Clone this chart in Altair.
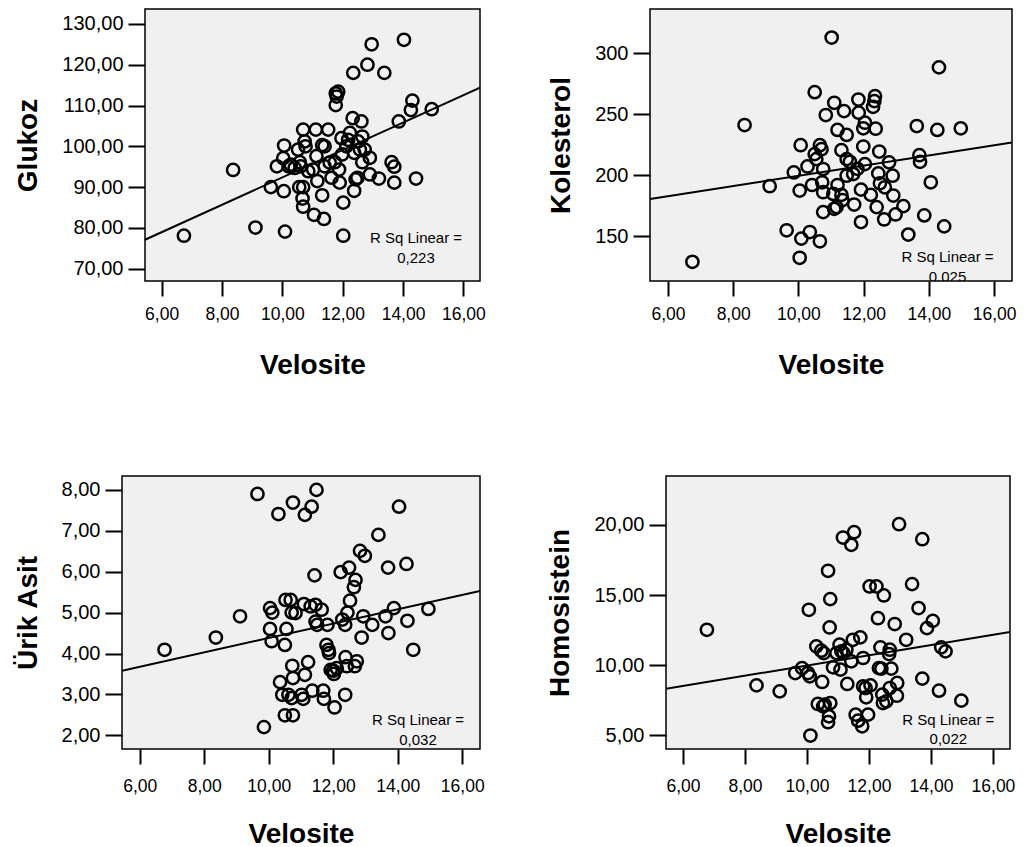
import altair as alt
import pandas as pd

# ---------------- data ----------------
glu_velo = [6.74, 8.37, 9.11, 10.09, 9.62, 9.82, 10.06, 10.03, 10.05, 10.28, 10.41, 10.52, 10.56, 10.69,
            10.67, 10.69, 10.69, 10.74, 10.77, 10.61, 10.86, 11.05, 11.11, 11.13, 11.16, 11.32, 11.38, 11.32,
            11.40, 11.52, 11.40, 11.63, 11.74, 11.77, 11.85, 11.80, 11.77, 11.88, 11.90, 11.98, 11.96, 12.02,
            12.02, 12.18, 12.24, 12.33, 12.35, 12.38, 12.43, 12.38, 12.49, 12.51, 12.62, 12.65, 12.65, 12.73,
            12.82, 12.90, 12.96, 12.90, 13.20, 13.38, 13.62, 13.71, 13.71, 13.86, 14.03, 14.26, 14.31, 14.43,
            14.95, 10.21, 10.58, 11.02, 11.57, 12.12, 12.57]
glukoz = [78.1, 94.2, 80.1, 79.1, 90.0, 95.1, 100.2, 97.1, 89.0, 95.5, 94.7, 99.2, 90.0, 90.0,
          87.2, 85.2, 104.1, 101.2, 100.0, 95.1, 93.9, 83.2, 104.1, 97.6, 91.5, 88.0, 82.2, 100.3,
          100.0, 104.1, 95.1, 92.3, 96.1, 113.0, 113.4, 112.2, 110.1, 94.3, 91.1, 98.0, 102.0, 86.2,
          78.1, 101.6, 103.3, 106.9, 118.0, 98.4, 91.9, 89.1, 92.3, 101.2, 106.1, 102.4, 96.1, 99.2,
          120.0, 97.2, 125.0, 93.1, 92.1, 118.0, 96.1, 95.0, 91.1, 106.1, 126.1, 108.9, 111.2, 92.1,
          109.1, 95.1, 96.1, 94.3, 96.0, 100.0, 99.2]

kol_velo = [6.75, 8.35, 9.12, 9.64, 9.86, 10.04, 10.04, 10.07, 10.09, 10.28, 10.35, 10.42, 10.50, 10.50,
            10.55, 10.66, 10.66, 10.71, 10.73, 10.76, 10.76, 10.76, 10.84, 11.07, 11.10, 11.10, 11.17, 11.20,
            11.20, 11.32, 11.32, 11.40, 11.48, 11.48, 11.48, 11.58, 11.68, 11.71, 11.84, 11.85, 11.92, 11.92,
            11.99, 11.99, 12.04, 12.04, 12.22, 12.35, 12.33, 12.29, 12.37, 12.40, 12.45, 12.48, 12.50, 12.63,
            12.65, 12.78, 12.89, 12.91, 12.98, 13.22, 13.37, 13.63, 13.71, 13.73, 13.86, 14.06, 14.26, 14.31,
            14.47, 14.98, 11.02, 11.35, 11.81]
kolesterol = [129.1, 241.1, 191.0, 154.9, 202.3, 187.4, 132.4, 224.6, 148.1, 207.2, 153.5, 192.0, 268.0, 217.3,
              213.2, 145.9, 224.6, 221.3, 194.2, 205.1, 186.1, 169.8, 249.3, 184.7, 259.3, 172.5, 173.9, 192.0,
              237.1, 183.9, 220.5, 252.5, 233.0, 213.2, 199.6, 211.0, 201.0, 176.0, 262.0, 251.2, 188.2, 161.7,
              238.4, 223.5, 209.1, 243.0, 183.9, 264.7, 260.7, 256.0, 238.1, 173.9, 201.5, 219.4, 193.4, 163.8,
              190.1, 210.5, 199.6, 183.4, 167.9, 174.7, 151.4, 240.3, 216.4, 211.0, 167.1, 194.2, 237.1, 288.3,
              158.1, 238.4, 312.7, 179.7, 205.3]

uri_velo = [6.77, 8.36, 9.11, 9.65, 9.85, 10.04, 10.11, 10.04, 10.09, 10.30, 10.35, 10.42, 10.50, 10.50,
            10.52, 10.55, 10.61, 10.68, 10.71, 10.73, 10.75, 10.75, 10.75, 10.71, 10.83, 11.02, 11.07, 11.09,
            11.12, 11.12, 11.22, 11.30, 11.33, 11.35, 11.42, 11.45, 11.48, 11.45, 11.50, 11.64, 11.69, 11.71,
            11.79, 11.82, 11.85, 11.87, 11.92, 12.00, 12.02, 12.04, 12.11, 12.23, 12.28, 12.37, 12.37, 12.38,
            12.44, 12.42, 12.49, 12.52, 12.64, 12.69, 12.67, 12.73, 12.83, 12.88, 12.93, 12.98, 13.21, 13.40,
            13.62, 13.70, 13.71, 13.88, 14.04, 14.27, 14.30, 14.48, 14.95]
urik_asit = [4.09, 4.39, 4.91, 7.90, 2.20, 5.11, 5.00, 4.60, 4.30, 7.41, 3.30, 2.99, 4.21, 2.49,
             5.31, 4.60, 2.99, 5.31, 5.00, 3.70, 7.69, 3.40, 2.49, 2.91, 4.99, 2.99, 2.89, 5.21,
             7.39, 3.48, 3.79, 5.15, 7.59, 3.09, 5.91, 5.19, 8.00, 4.78, 4.70, 5.07, 3.09, 2.89,
             4.21, 4.70, 4.09, 4.01, 3.60, 3.58, 3.50, 2.68, 3.64, 5.99, 4.83, 4.70, 2.99, 3.91,
             5.00, 3.69, 6.10, 5.29, 5.62, 5.80, 3.69, 3.81, 6.51, 4.39, 4.91, 6.39, 4.70, 6.90,
             4.91, 6.10, 4.50, 5.11, 7.59, 6.19, 4.80, 4.09, 5.09]

hom_velo = [6.77, 8.37, 9.12, 9.62, 9.84, 10.03, 10.09, 10.06, 10.11, 10.30, 10.35, 10.46, 10.49, 10.52,
            10.54, 10.57, 10.68, 10.71, 10.68, 10.73, 10.75, 10.75, 10.84, 10.95, 11.05, 11.08, 11.11, 11.16,
            11.18, 11.30, 11.27, 11.43, 11.43, 11.48, 11.52, 11.57, 11.65, 11.72, 11.78, 11.81, 11.81, 11.89,
            11.91, 11.97, 12.02, 12.05, 12.24, 12.29, 12.32, 12.37, 12.40, 12.43, 12.45, 12.48, 12.56, 12.67,
            12.65, 12.67, 12.72, 12.83, 12.91, 12.90, 12.97, 13.20, 13.39, 13.60, 13.72, 13.72, 13.87, 14.06,
            14.26, 14.33, 14.47, 14.98]
homosistein = [12.52, 8.56, 8.13, 9.44, 9.79, 9.44, 9.20, 13.95, 4.98, 11.34, 7.23, 11.03, 8.80, 7.06,
               10.86, 7.18, 16.73, 6.35, 5.93, 12.69, 14.71, 7.30, 9.84, 10.86, 11.46, 9.68, 10.98, 19.10,
               10.86, 8.66, 11.10, 18.58, 10.27, 11.81, 19.48, 6.47, 6.04, 11.98, 5.64, 10.51, 8.49, 8.37,
               7.71, 6.47, 15.61, 8.56, 15.61, 13.35, 9.79, 11.27, 9.75, 7.90, 7.30, 14.97, 7.42, 8.37,
               10.79, 11.10, 9.75, 12.93, 8.73, 7.82, 20.05, 11.81, 15.78, 14.07, 9.04, 18.98, 12.64, 13.16,
               8.18, 11.27, 10.98, 7.47]

# fitted line values at the two ends of the x range
x_range = [5.45, 16.55]
fit_glukoz = [77.1, 114.4]
fit_kolesterol = [180.6, 226.8]
fit_urik = [3.58, 5.53]
fit_homosistein = [8.32, 12.36]

rsq_values = ["0,223", "0,025", "0,032", "0,022"]
x_ticks = [6, 8, 10, 12, 14, 16]

FONT = "Liberation Sans"
COMMA2 = "replace(format(datum.value, '.2f'), '.', ',')"
PANEL_FILL = "#f0f0f0"


def panel(xs, ys, ytitle, ydomain, yticks, ylabel_expr, fit_y, rsq, width, height,
          rsq_dx, rsq_up1, rsq_up2, xlabel_pad, xtitle_pad, clip_text=False, shift=0):
    """shift > 0: the plot area is widened to the left by `shift` px and the
    framed box is drawn as a rect, so the left column of the grid can line up
    differently in the two rows (as in the reference)."""
    df = pd.DataFrame({"v": xs, "y": ys})
    fit = pd.DataFrame({"v": x_range, "y": fit_y})
    span = x_range[1] - x_range[0]
    x_dom = [x_range[0] - shift * span / width, x_range[1]]
    x_axis = dict(values=x_ticks, labelExpr=COMMA2, domain=False, grid=False,
                  tickSize=15, tickWidth=2, tickColor="black",
                  labelPadding=xlabel_pad, labelFontSize=17.5, labelColor="black",
                  labelFont=FONT, titleFontSize=28, titleFont=FONT, titleFontWeight="bold",
                  titleColor="black", titlePadding=xtitle_pad)
    y_axis = dict(values=yticks, labelExpr=ylabel_expr, domain=False, grid=False,
                  tickSize=17, tickWidth=2, tickColor="black",
                  labelPadding=5, labelFontSize=20, labelColor="black", labelFont=FONT,
                  titleFontSize=28, titleFont=FONT, titleFontWeight="bold",
                  titleColor="black", titlePadding=19)
    if shift:
        x_axis["titleX"] = shift + width / 2
        y_axis["offset"] = -shift
    x = alt.X("v:Q", title="Velosite",
              scale=alt.Scale(domain=x_dom, nice=False, zero=False), axis=alt.Axis(**x_axis))
    y = alt.Y("y:Q", title=ytitle,
              scale=alt.Scale(domain=ydomain, nice=False, zero=False), axis=alt.Axis(**y_axis))
    layers = []
    if shift:
        box = pd.DataFrame({"v": [x_range[0]], "v2": [x_range[1]],
                            "y": [ydomain[0]], "y2": [ydomain[1]]})
        layers.append(alt.Chart(box).mark_rect(fill=PANEL_FILL, stroke="black", strokeWidth=1.5)
                      .encode(x=x, x2="v2:Q", y=y, y2="y2:Q"))
    layers.append(alt.Chart(df).mark_point(shape="circle", filled=False, color="black",
                                           size=150, strokeWidth=2.5, opacity=1).encode(x=x, y=y))
    layers.append(alt.Chart(fit).mark_line(color="black", strokeWidth=2, clip=True).encode(x=x, y=y))
    full_w = width + shift
    layers.append(alt.Chart(pd.DataFrame({"t": ["R Sq Linear ="]})).mark_text(
        font=FONT, fontSize=15, color="black", align="center", baseline="middle", clip=clip_text
    ).encode(x=alt.value(full_w - rsq_dx), y=alt.value(height - rsq_up1), text="t:N"))
    layers.append(alt.Chart(pd.DataFrame({"t": [rsq]})).mark_text(
        font=FONT, fontSize=15, color="black", align="center", baseline="middle", clip=clip_text
    ).encode(x=alt.value(full_w - rsq_dx), y=alt.value(height - rsq_up2), text="t:N"))
    ch = alt.layer(*layers).properties(width=full_w, height=height)
    if shift:
        ch = ch.properties(view=alt.ViewBackground(fill=None, stroke=None))
    else:
        ch = ch.properties(view=alt.ViewBackground(fill=PANEL_FILL, stroke="black", strokeWidth=1.5))
    return ch


p1 = panel(glu_velo, glukoz, "Glukoz", [67.0, 133.65], [70, 80, 90, 100, 110, 120, 130], COMMA2,
           fit_glukoz, rsq_values[0], 335, 272, 64, 42.6, 22.6, 9, 29, shift=23)
p2 = panel(kol_velo, kolesterol, "Kolesterol", [113.4, 336.1], [150, 200, 250, 300],
           "format(datum.value, '.0f')", fit_kolesterol, rsq_values[1], 362, 272, 64.5, 24, 4,
           9, 29, clip_text=True)
p3 = panel(uri_velo, urik_asit, "Ürik Asit", [1.665, 8.34], [2, 3, 4, 5, 6, 7, 8], COMMA2,
           fit_urik, rsq_values[2], 358, 273, 62, 28.7, 9.4, 13, 26)
p4 = panel(hom_velo, homosistein, "Homosistein", [4.02, 23.49], [5, 10, 15, 20], COMMA2,
           fit_homosistein, rsq_values[3], 344, 273, 61.7, 28.7, 9.7, 13, 26)

row1 = alt.hconcat(p1, p2, spacing=60)
row2 = alt.hconcat(p3, p4, spacing=61)

chart = alt.vconcat(row1, row2, spacing=94).properties(
    padding={"left": 5, "top": 0, "right": 0, "bottom": 0},
    background="white",
).configure(font=FONT)

chart.save("out.html", embed_options={"renderer": "svg", "actions": False})
